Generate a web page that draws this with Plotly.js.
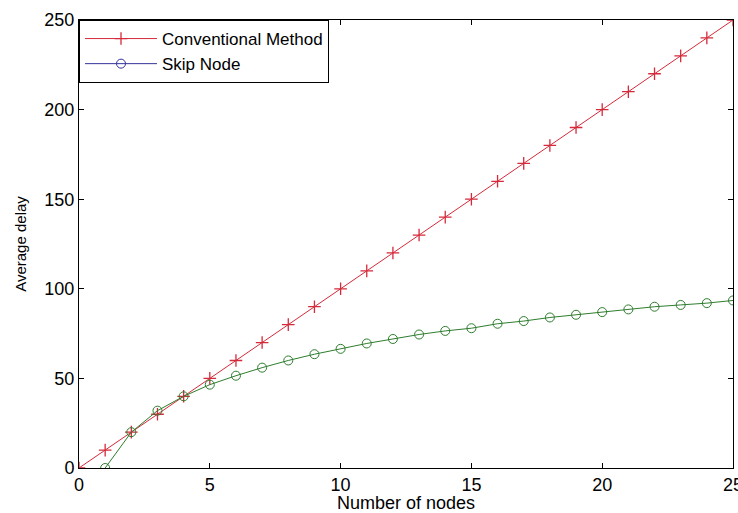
<!DOCTYPE html>
<html>
<head>
<meta charset="utf-8">
<script src="https://cdn.plot.ly/plotly-3.0.1.min.js"></script>
<style>html,body{margin:0;padding:0;background:#fff;}#chart{width:738px;height:513px;}</style>
</head>
<body>
<div id="chart"></div>
<script>
const convX = [0,1,2,3,4,5,6,7,8,9,10,11,12,13,14,15,16,17,18,19,20,21,22,23,24,25];
const convY = [0,10,20,30,40,50,60,70,80,90,100,110,120,130,140,150,160,170,180,190,200,210,220,230,240,250];
const skipX = [1,2,3,4,5,6,7,8,9,10,11,12,13,14,15,16,17,18,19,20,21,22,23,24,25];
const skipY = [0,20,32,40,46.5,51.5,56,60,63.5,66.5,69.5,72,74.5,76.5,78,80.5,82,84,85.5,87,88.5,90,91,92,93.5];
const xTicks = [0,5,10,15,20,25];
const yTicks = [0,50,100,150,200,250];

const fam = 'Liberation Sans, Arial, sans-serif';
const font = {family: fam, size: 18, color: '#000'};

const traces = [
  {x: convX, y: convY, name: 'Conventional Method', mode: 'lines+markers',
   line: {color: '#d42a3a', width: 1},
   marker: {symbol: 'cross-thin-open', size: 9, line: {color: '#dd1f33', width: 1.3}}},
  {x: [null], y: [null], name: 'Skip Node', mode: 'lines+markers',
   line: {color: '#33339a', width: 1},
   marker: {symbol: 'circle-open', size: 9, color: '#33339a', line: {color: '#33339a', width: 1}}},
  {x: skipX, y: skipY, name: 'Skip Node', mode: 'lines+markers', showlegend: false,
   line: {color: '#2e7d2e', width: 1},
   marker: {symbol: 'circle-open', size: 9, color: '#2e7d2e', line: {color: '#2e7d2e', width: 1}}}
];

const layout = {
  width: 738, height: 513,
  margin: {l: 79, r: 5, t: 20, b: 45},
  paper_bgcolor: '#fff', plot_bgcolor: '#fff',
  font: font,
  showlegend: true,
  legend: {x: 0, y: 1, xanchor: 'left', yanchor: 'top', bgcolor: '#fff',
           bordercolor: '#000', borderwidth: 1, font: {family: fam, size: 17, color: '#000'},
           itemwidth: 72, tracegroupgap: 0},
  xaxis: {range: [0, 25], tickvals: xTicks, ticktext: xTicks.map(String),
          ticks: 'inside', ticklen: 5, tickcolor: '#000', showline: true, linecolor: '#000',
          linewidth: 1, mirror: 'ticks', showgrid: false, zeroline: false,
          ticklabeloverflow: 'allow',
          title: {text: 'Number of nodes', font: font, standoff: 2}, tickfont: font},
  yaxis: {range: [0, 250], tickvals: yTicks, ticktext: yTicks.map(String),
          ticks: 'inside', ticklen: 5, tickcolor: '#000', showline: true, linecolor: '#000',
          linewidth: 1, mirror: 'ticks', showgrid: false, zeroline: false,
          title: {text: 'Average delay', font: {family: fam, size: 15, color: '#000'}, standoff: 14}, tickfont: font}
};

Plotly.newPlot('chart', traces, layout, {displayModeBar: false, staticPlot: true});
</script>
</body>
</html>
